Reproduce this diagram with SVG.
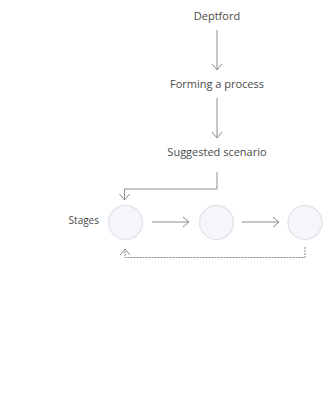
<svg xmlns="http://www.w3.org/2000/svg" width="328" height="404" viewBox="0 0 328 404">
  <style>
    .label { font-family: "Open Sans", "Noto Sans", sans-serif; font-size: 11px; fill: #4a4a4a; }
    .small { font-size: 10px; }
    .edge { fill: none; stroke: #8c8c8c; stroke-width: 1; }
    .dashed { stroke-dasharray: 2 1; }
    .stage { fill: #f5f6fa; stroke: #e4e6ef; stroke-width: 1.5; }
  </style>
  <defs>
    <marker id="chev" viewBox="0 0 12 12" refX="11" refY="6" markerWidth="12" markerHeight="12" markerUnits="userSpaceOnUse" orient="auto">
      <path d="M5 1 L11 6 L5 11" fill="none" stroke="#8c8c8c" stroke-width="1"/>
    </marker>
  </defs>
  <rect width="328" height="404" fill="#ffffff"/>

  <g id="edges">
    <path class="edge" d="M217 30 V70" marker-end="url(#chev)"/>
    <path class="edge" d="M217 98 V138" marker-end="url(#chev)"/>
    <path class="edge" d="M217 172 V189 H124.5 V200" marker-end="url(#chev)"/>
    <path class="edge" d="M152 222 H189" marker-end="url(#chev)"/>
    <path class="edge" d="M242 222 H279" marker-end="url(#chev)"/>
    <path class="edge dashed" d="M305 247 V257.5 H125 V249" marker-end="url(#chev)"/>
  </g>

  <g id="deptford"><text class="label" x="217" y="20" text-anchor="middle">Deptford</text></g>
  <g id="forming"><text class="label" x="217" y="88" text-anchor="middle">Forming a process</text></g>
  <g id="suggested"><text class="label" x="217" y="156" text-anchor="middle">Suggested scenario</text></g>
  <g id="stages-label"><text class="label small" x="99" y="224" text-anchor="end">Stages</text></g>

  <g id="stage1"><circle class="stage" cx="125.5" cy="222.5" r="17"/></g>
  <g id="stage2"><circle class="stage" cx="216.5" cy="222.5" r="17"/></g>
  <g id="stage3"><circle class="stage" cx="305" cy="222.5" r="17"/></g>
</svg>
